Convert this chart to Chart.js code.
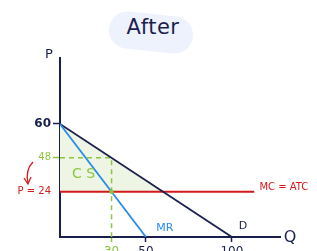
<!DOCTYPE html>
<html>
<head>
<meta charset="utf-8">
<script src="https://cdn.jsdelivr.net/npm/chart.js@4"></script>
<style>
  html, body { margin: 0; padding: 0; background: #fff; }
  #wrap { position: relative; width: 317px; height: 251px; overflow: hidden; }
  #pill { position: absolute; left: 109px; top: 14px; width: 84px; height: 37px; border-radius: 18px;
          background: #eef2fd; transform: rotate(6deg); }
  #title { position: absolute; left: 108px; top: 15px; width: 90px; text-align: center;
           font-family: 'DejaVu Sans', sans-serif; font-size: 21px; color: #1a1f4e; letter-spacing: 0.5px; }
</style>
</head>
<body>
<div id="wrap">
  <div id="pill"></div>
  <div id="title">After</div>
  <canvas id="c" width="317" height="251" style="position:absolute;left:0;top:0;"></canvas>
</div>
<script>
// ---- data ----
const demandQ = [0, 100];
const demandP = [60, 0];
const mrQ = [0, 50];
const mrP = [60, 0];
const mcQ = [0, 113];
const mcP = [24, 24];
const csQ = [0, 60];
const csP = [60, 24];
const guideQ = [0, 30, 30];
const guideP = [42, 42, 0];
const markQ = [30];
const markP = [24];
const xTickValues = [30, 50, 100];
const xTickLabels = ['30', '50', '100'];
const yTickValues = [24, 42, 60];
const yTickLabels = ['P = 24', '48', '60'];

const NAVY = '#1a1f4e', RED = '#d3191c', BLUE = '#2b8be6', GREEN = '#8cc63f', SHADE = '#eef5e5';
const FONT = 'DejaVu Sans';

const pts = (xs, ys) => xs.map((x, i) => ({ x: x, y: ys[i] }));

const yColor = v => v === 60 ? NAVY : (v === 24 ? RED : GREEN);
const xColor = v => v === 30 ? GREEN : NAVY;

const decor = {
  id: 'decor',
  afterDatasetsDraw(chart) {
    const c = chart.ctx, x = chart.scales.x, y = chart.scales.y;
    c.save();
    c.textBaseline = 'middle';
    // axis names
    c.fillStyle = NAVY;
    c.font = '13px ' + FONT;
    c.textAlign = 'center';
    c.fillText('P', x.left - 11, y.top - 3);
    c.font = '16px ' + FONT;
    c.fillText('Q', x.right + 10, y.bottom + 1);
    // curve labels
    c.font = '11px ' + FONT;
    c.fillStyle = BLUE;
    c.textAlign = 'left';
    c.fillText('MR', x.getPixelForValue(56), y.bottom - 9);
    c.fillStyle = NAVY;
    c.fillText('D', x.getPixelForValue(104), y.bottom - 11);
    c.fillStyle = RED;
    c.font = '10px ' + FONT;
    c.fillText('MC = ATC', x.getPixelForValue(116), y.getPixelForValue(26.5));
    c.fillStyle = GREEN;
    c.font = '14px ' + FONT;
    c.textAlign = 'left';
    c.fillText('C S', x.getPixelForValue(7), y.getPixelForValue(33.5));
    // red arrow pointing to P = 24
    c.strokeStyle = RED;
    c.lineWidth = 1.3;
    c.beginPath();
    c.moveTo(33, 162);
    c.quadraticCurveTo(25, 170, 28, 183);
    c.stroke();
    c.beginPath();
    c.moveTo(24, 178);
    c.lineTo(28, 184);
    c.lineTo(31, 177);
    c.stroke();
    c.restore();
  }
};

new Chart(document.getElementById('c'), {
  type: 'line',
  data: {
    datasets: [
      { data: pts(csQ, csP), borderWidth: 0, pointRadius: 0, backgroundColor: SHADE, fill: { value: 24 }, order: 5 },
      { data: pts(guideQ, guideP), borderColor: GREEN, borderWidth: 1.5, borderDash: [5, 4], pointRadius: 0, fill: false, order: 4 },
      { data: pts(mcQ, mcP), borderColor: RED, borderWidth: 2, pointRadius: 0, fill: false, order: 3 },
      { data: pts(demandQ, demandP), borderColor: NAVY, borderWidth: 1.8, pointRadius: 0, fill: false, order: 2 },
      { data: pts(mrQ, mrP), borderColor: BLUE, borderWidth: 1.8, pointRadius: 0, fill: false, order: 1 },
      { data: pts(markQ, markP), showLine: false, pointRadius: 2.2, pointBackgroundColor: GREEN, pointBorderWidth: 0, order: 0 }
    ]
  },
  options: {
    responsive: false,
    animation: false,
    events: [],
    layout: { padding: { top: 58, right: 37, left: 0, bottom: 0 } },
    plugins: { legend: { display: false }, tooltip: { enabled: false }, title: { display: false } },
    scales: {
      x: {
        type: 'linear', min: 0, max: 128,
        afterFit: s => { s.height = 14; },
        afterBuildTicks: s => { s.ticks = xTickValues.map(v => ({ value: v })); },
        border: { color: NAVY, width: 2 },
        grid: { drawOnChartArea: false, drawTicks: true, tickLength: 5, tickWidth: 1.5,
                tickColor: ctx => ctx.tick ? xColor(ctx.tick.value) : NAVY },
        ticks: {
          autoSkip: false, maxRotation: 0, padding: 3,
          font: { family: FONT, size: 12 },
          color: ctx => ctx.tick ? xColor(ctx.tick.value) : NAVY,
          callback: (v) => xTickLabels[xTickValues.indexOf(v)]
        }
      },
      y: {
        type: 'linear', min: 0, max: 95,
        afterFit: s => { s.width = 60; },
        afterBuildTicks: s => { s.ticks = yTickValues.map(v => ({ value: v })); },
        border: { color: NAVY, width: 2 },
        grid: { drawOnChartArea: false, drawTicks: true, tickLength: 7, tickWidth: 1.5,
                tickColor: ctx => ctx.tick ? (ctx.tick.value === 24 ? 'rgba(0,0,0,0)' : yColor(ctx.tick.value)) : NAVY },
        ticks: {
          autoSkip: false, padding: 2,
          font: ctx => ({ family: FONT, size: ctx.tick && ctx.tick.value === 60 ? 12 : 10, weight: ctx.tick && ctx.tick.value === 60 ? 'bold' : 'normal' }),
          color: ctx => ctx.tick ? yColor(ctx.tick.value) : NAVY,
          callback: (v) => yTickLabels[yTickValues.indexOf(v)]
        }
      }
    }
  },
  plugins: [decor]
});
</script>
</body>
</html>
